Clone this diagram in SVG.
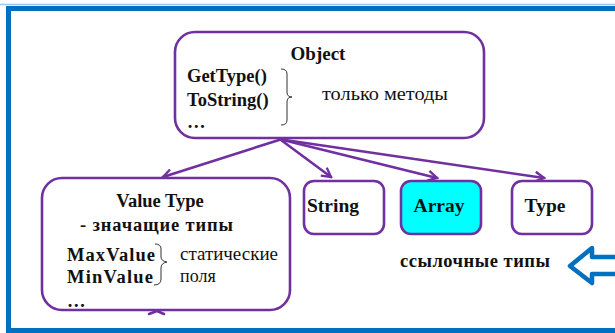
<svg xmlns="http://www.w3.org/2000/svg" width="615" height="333" viewBox="0 0 615 333">
<defs>
<style>
.box{fill:#fff;stroke:#7030A0;stroke-width:2.6}
.t{font-family:'Liberation Serif','DejaVu Serif','Times New Roman',serif;fill:#111}
.b{font-weight:bold}
.con{fill:none;stroke:#7030A0;stroke-width:2.6;stroke-linecap:round}
.brace{fill:none;stroke:#333;stroke-width:1}
</style>
<marker id="ah" viewBox="0 0 12 12" refX="10" refY="6" markerWidth="12" markerHeight="12" markerUnits="userSpaceOnUse" orient="auto">
<path d="M1,1 L10,6 L1,11" fill="none" stroke="#7030A0" stroke-width="2.4" stroke-linejoin="miter"/>
</marker>
</defs>
<rect x="0" y="0" width="615" height="333" fill="#fff"/>
<line x1="0" y1="4.5" x2="615" y2="4.5" stroke="#9dc3e6" stroke-width="1.5"/>
<rect x="8.5" y="8.5" width="620" height="322" fill="none" stroke="#0070C0" stroke-width="5"/>

<g id="connectors">
<line class="con" x1="279" y1="140" x2="163" y2="177" marker-end="url(#ah)"/>
<line class="con" x1="281" y1="140" x2="331" y2="177" marker-end="url(#ah)"/>
<line class="con" x1="283" y1="140" x2="437" y2="178" marker-end="url(#ah)"/>
<line class="con" x1="285" y1="140" x2="544" y2="178" marker-end="url(#ah)"/>
<path class="con" d="M149,314 L157,311 L164,314"/>
</g>

<g id="object">
<rect class="box" x="175" y="32" width="309" height="106" rx="20"/>
<text class="t b" x="318" y="60" font-size="19" text-anchor="middle" font-family="Liberation Serif, serif">Object</text>
<text class="t b" x="187" y="82" font-size="18.5" font-family="Liberation Serif, serif">GetType()</text>
<text class="t b" x="187" y="106" font-size="18.5" font-family="Liberation Serif, serif">ToString()</text>
<text class="t b" x="187" y="128" font-size="18.5" font-family="Liberation Serif, serif">…</text>
<path class="brace" d="M281,69 Q287,69 287,74 L287,92 Q287,97 292,97 Q287,97 287,102 L287,120 Q287,125 281,125"/>
<text class="t" x="322" y="100" font-size="18" textLength="126" lengthAdjust="spacingAndGlyphs" font-family="Liberation Serif, serif">только методы</text>
</g>

<g id="valuetype">
<rect class="box" x="42" y="178" width="248" height="132" rx="20"/>
<text class="t b" x="160" y="207" font-size="18.5" text-anchor="middle" font-family="Liberation Serif, serif">Value Type</text>
<text class="t b" x="80" y="231" font-size="18.5" textLength="153" lengthAdjust="spacing" font-family="Liberation Serif, serif">- значащие типы</text>
<text class="t b" x="67" y="261" font-size="18.5" textLength="88" lengthAdjust="spacing" font-family="Liberation Serif, serif">MaxValue</text>
<text class="t b" x="67" y="283" font-size="18.5" textLength="86" lengthAdjust="spacing" font-family="Liberation Serif, serif">MinValue</text>
<text class="t b" x="67" y="307" font-size="18.5" font-family="Liberation Serif, serif">…</text>
<path class="brace" d="M155,244 Q161,244 161,249 L161,257 Q161,261 167,262 Q161,263 161,268 L161,279 Q161,285 154,285"/>
<text class="t" x="180" y="260" font-size="18" textLength="98" lengthAdjust="spacingAndGlyphs" font-family="Liberation Serif, serif">статические</text>
<text class="t" x="180" y="282" font-size="18" font-family="Liberation Serif, serif">поля</text>
</g>

<g id="string">
<rect class="box" x="304" y="181" width="80" height="53" rx="10"/>
<text class="t b" x="307" y="212" font-size="19.5" font-family="Liberation Serif, serif">String</text>
</g>

<g id="array">
<rect class="box" x="401" y="181" width="80" height="53" rx="10" style="fill:#00FFFF"/>
<text class="t b" x="439" y="212" font-size="19.5" text-anchor="middle" font-family="Liberation Serif, serif">Array</text>
</g>

<g id="type">
<rect class="box" x="512" y="181" width="80" height="53" rx="10"/>
<text class="t b" x="545" y="212" font-size="19.5" text-anchor="middle" font-family="Liberation Serif, serif">Type</text>
</g>

<g id="reftypes">
<text class="t b" x="400" y="267" font-size="18.5" textLength="150" lengthAdjust="spacing" font-family="Liberation Serif, serif">ссылочные типы</text>
<path d="M618,257 L592,257 L592,248 L570,266 L592,283 L592,274 L618,274" fill="#fff" stroke="#0070C0" stroke-width="4.5" stroke-linejoin="round"/>
</g>
</svg>
